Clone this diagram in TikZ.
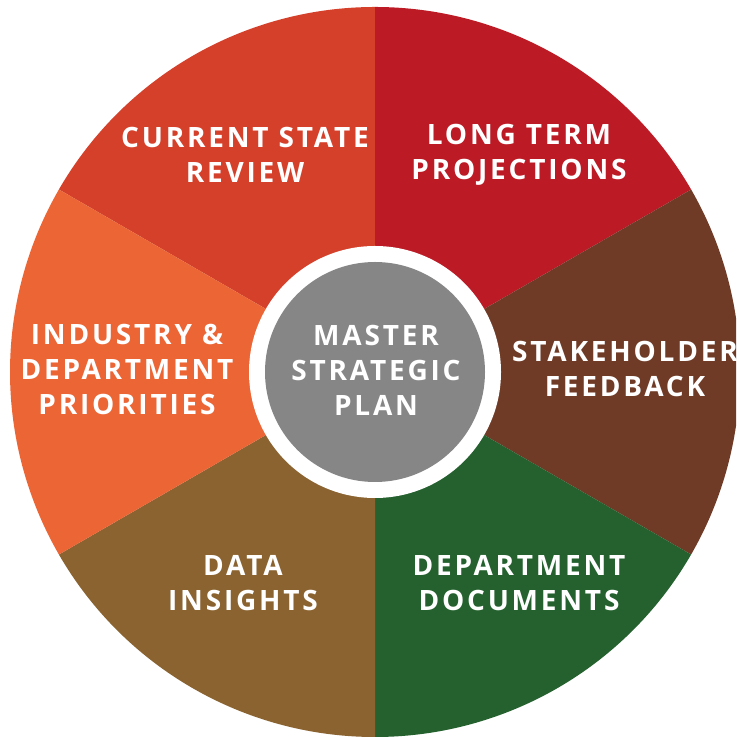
\documentclass[tikz,border=0pt]{standalone}
\usepackage{fontspec}
\newfontfamily\labelfont{Open Sans}[LetterSpace=10]
\definecolor{segCurrent}{HTML}{D5402B}
\definecolor{segLong}{HTML}{BC1A25}
\definecolor{segStake}{HTML}{6F3B27}
\definecolor{segDocs}{HTML}{24612E}
\definecolor{segData}{HTML}{8A6330}
\definecolor{segIndustry}{HTML}{EC6535}
\definecolor{hubGray}{HTML}{868686}
\begin{document}
\begin{tikzpicture}[x=1pt, y=1pt,
    seglabel/.style={text=white, align=center,
      font=\labelfont\bfseries\fontsize{28}{35}\selectfont}]
  \useasboundingbox (0,0) rectangle (736,738);
  \clip (0,0) rectangle (736,738);
  \coordinate (c) at (375,366);
  % pie segments
  \foreach \a/\col in {90/segCurrent, 30/segLong, -30/segStake,
                       -90/segDocs, -150/segData, 150/segIndustry}
    \fill[\col] (c) -- ++(\a:365) arc[start angle=\a, delta angle=60, radius=365] -- cycle;
  % hub
  \fill[white] (c) circle[radius=126];
  \fill[hubGray] (c) circle[radius=110];

  \node[seglabel] (current) at (245,583) {CURRENT STATE\\REVIEW};
  \node[seglabel] (long) at (519,583) {LONG TERM\\PROJECTIONS};
  \node[seglabel] (stake) at (625,369) {STAKEHOLDER\\FEEDBACK};
  \node[seglabel] (docs) at (519,155) {DEPARTMENT\\DOCUMENTS};
  \node[seglabel] (data) at (243,155) {DATA\\INSIGHTS};
  \node[seglabel] (industry) at (127,368) {INDUSTRY \&\\DEPARTMENT\\PRIORITIES};
  \node[seglabel] (master) at (376,368) {MASTER\\STRATEGIC\\PLAN};
\end{tikzpicture}
\end{document}
